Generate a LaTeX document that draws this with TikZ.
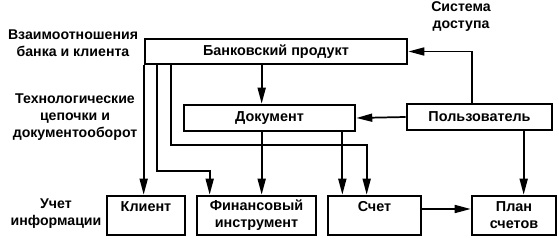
\documentclass[tikz,border=0pt]{standalone}
\usepackage{fontspec}
\setmainfont{Liberation Sans}
\usepackage{tikz}
\usetikzlibrary{arrows.meta,positioning,calc}
\tikzset{
  >={Triangle[length=4.2mm,width=2.1mm]},
  % blokker
  blk/.style={draw=black,line width=2pt,fill=white,inner sep=1pt,
              font=\bfseries\fontsize{10.8}{12.8}\selectfont,align=center},
  lbl/.style={font=\bfseries\fontsize{10.6}{12.8}\selectfont,align=center,inner sep=0pt},
  arr/.style={->,draw=black,line width=1.3pt},
}
\begin{document}
\begin{tikzpicture}[x=0.75pt,y=-0.75pt]
\useasboundingbox (0,0) rectangle (559,245);
  \node[blk,minimum width=196.5pt,minimum height=18.75pt] (prod) at (276,51.5) {Банковский продукт};
  \node[blk,minimum width=128.25pt,minimum height=19.5pt] (doc) at (269.5,118) {Документ};
  \node[blk,minimum width=108.75pt,minimum height=19.5pt] (user) at (479.5,117) {Пользователь};
  \node[blk,minimum width=58.5pt,minimum height=29.25pt] (klient) at (146,215.5) {Клиент\\\mbox{}};
  \node[blk,minimum width=89.25pt,minimum height=29.25pt] (fin) at (256.5,215.5) {Финансовый\\инструмент};
  \node[blk,minimum width=69.75pt,minimum height=29.25pt] (schet) at (374.5,215.5) {Счет\\\mbox{}};
  \node[blk,minimum width=63pt,minimum height=29.25pt] (plan) at (514,215.5) {План\\счетов};
  \node[lbl] (l1) at (73,43.5) {Взаимоотношения\\банка и клиента};
  \node[lbl] (l2) at (75,117.5) {Технологические\\цепочки и\\документооборот};
  \node[lbl] (l3) at (56,213.5) {Учет\\информации};
  \node[lbl] (l4) at (461,17) {Система\\доступа};
  \coordinate (p2) at ($(prod.south west)+(13,0)$);
  \coordinate (p3) at ($(prod.south west)+(27,0)$);
  \coordinate (d1) at ($(doc.north west)+(79,0)$);
  \coordinate (d2) at ($(doc.south east)+(-14,0)$);
  \coordinate (u1) at ($(user.north west)+(66,0)$);
  \coordinate (u2) at ($(user.south west)+(118,0)$);
  \draw[arr] (prod.south west) -- (prod.south west |- klient.north);
  \draw[arr] (p2) -- ++(0,106) -| ($(fin.north west)+(14,0)$);
  \draw[arr] (p3) -- ++(0,80) -| ($(schet.north west)+(40,0)$);
  \draw[arr] (d1 |- prod.south) -- (d1);
  \draw[arr] (d1 |- doc.south) -- (d1 |- fin.north);
  \draw[arr] (d2) -- (d2 |- schet.north);
  \draw[arr] (user.west) -- (doc.east);
  \draw[arr] (u1) |- (prod.east);
  \draw[arr] (u2) -- (u2 |- plan.north);
  \draw[arr] ($(schet.east)+(0,-6.5)$) -- ($(plan.west)+(0,-6.5)$);
\end{tikzpicture}
\end{document}
